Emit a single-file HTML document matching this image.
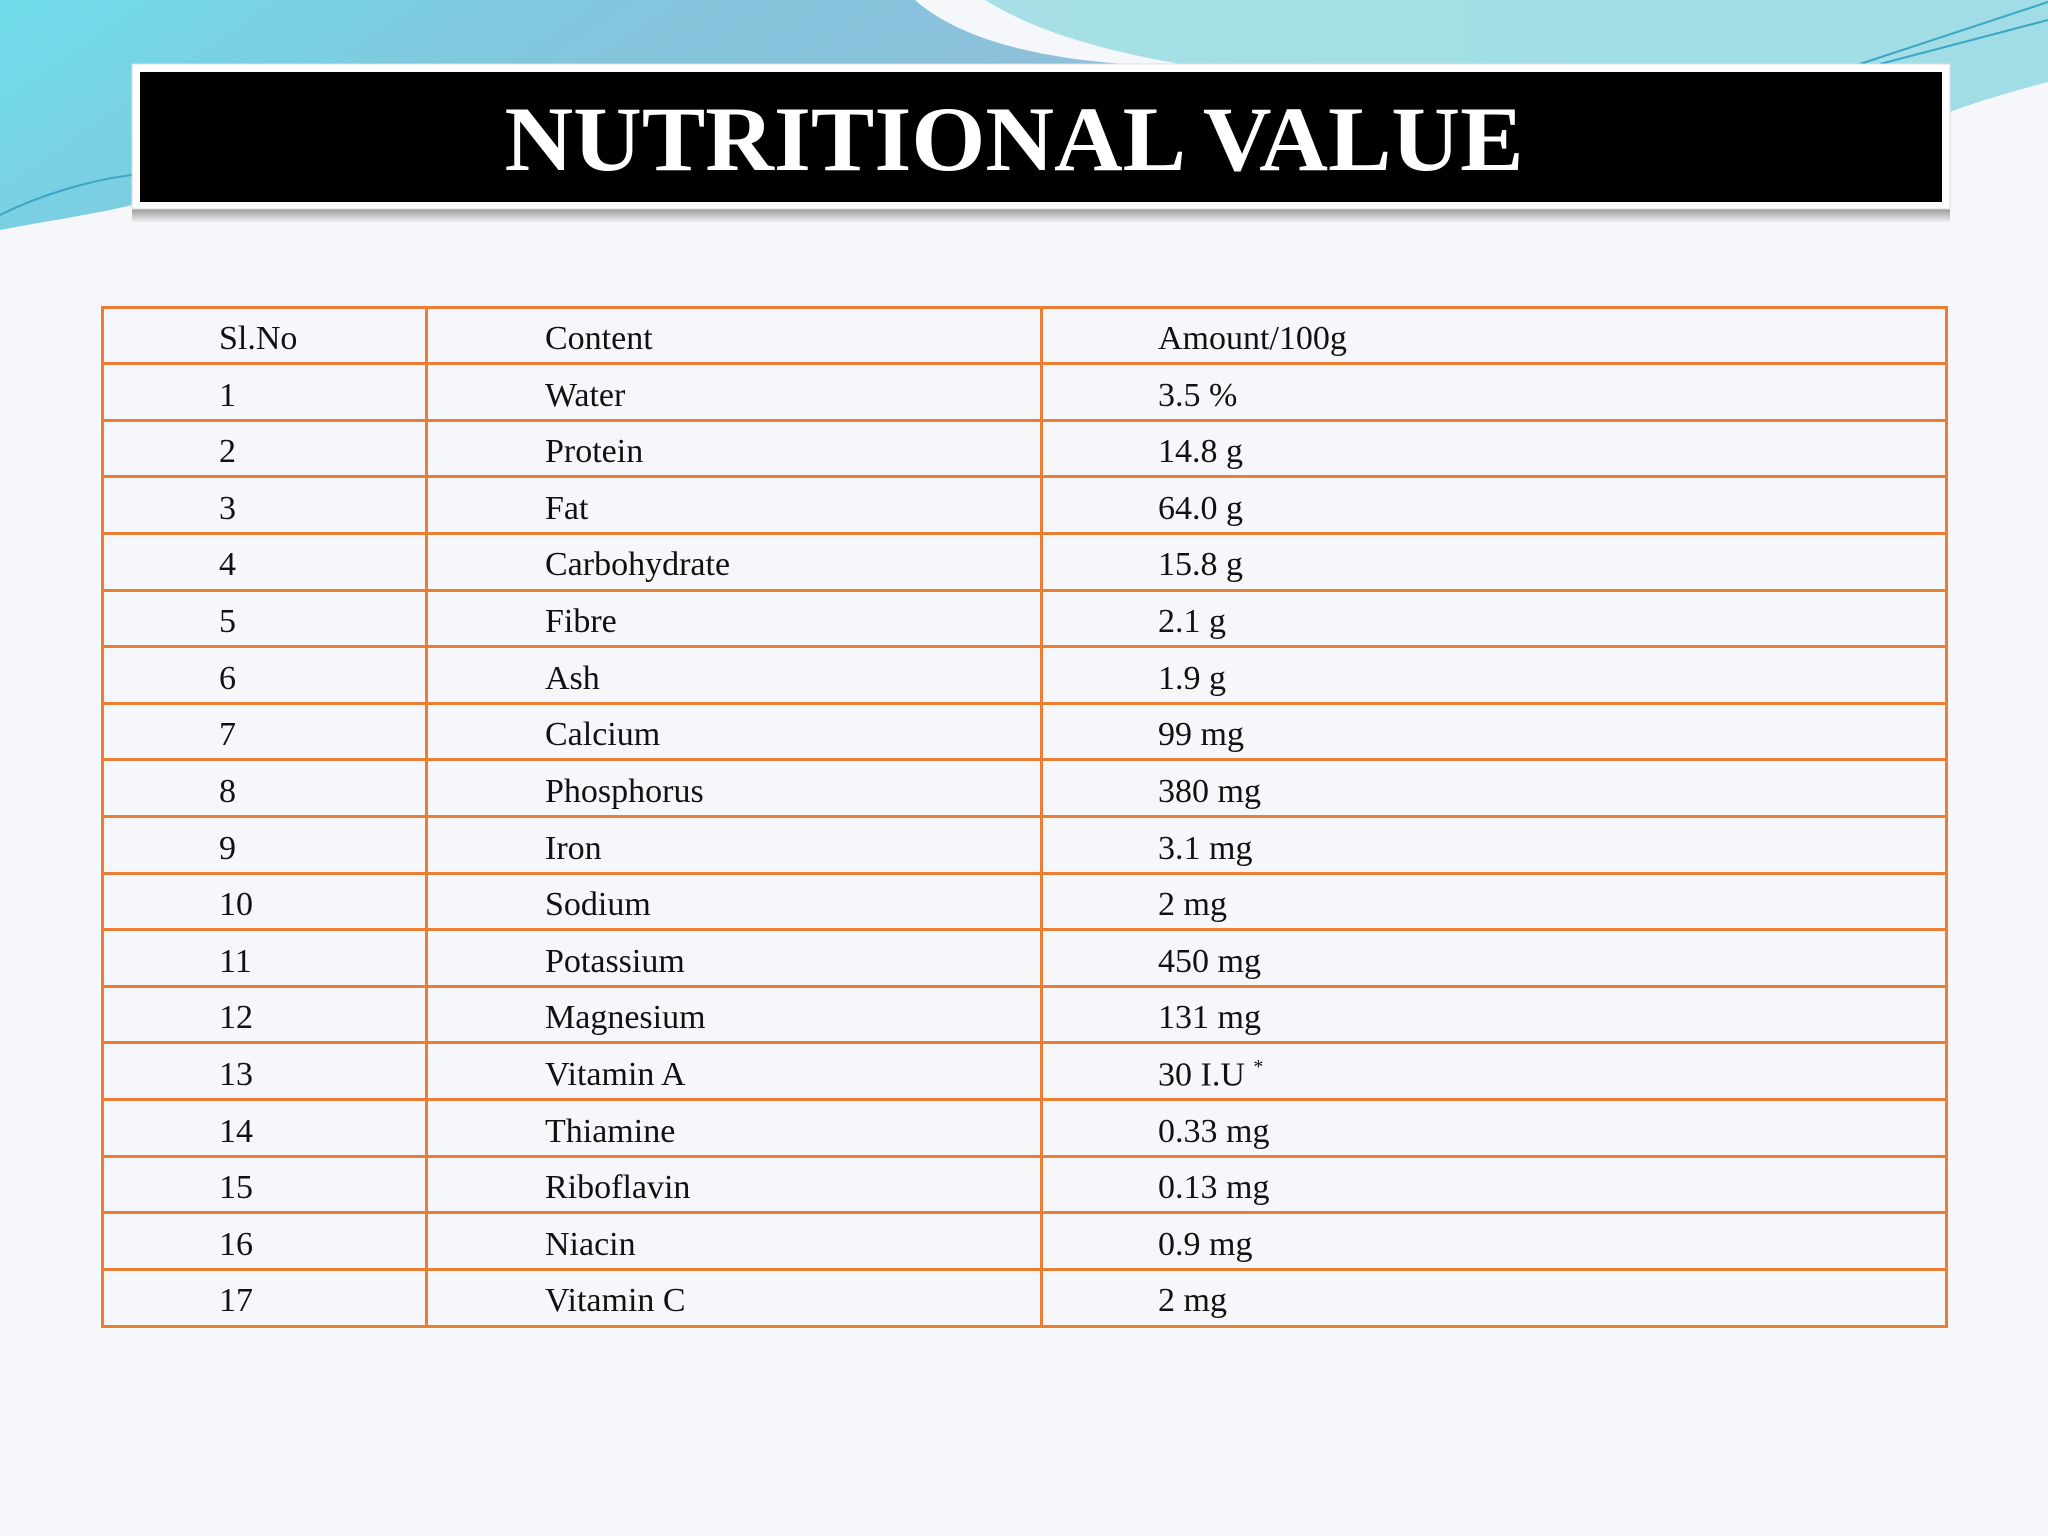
<!DOCTYPE html>
<html><head><meta charset="utf-8">
<style>
html,body{margin:0;padding:0;width:2048px;height:1536px;overflow:hidden;background:#f6f7fa;}
#bg{position:absolute;left:0;top:0;}
.cell{position:absolute;font-family:"Liberation Serif",serif;font-size:34px;color:#111;white-space:nowrap;}
.hl{position:absolute;background:#ec7d33;}
</style></head>
<body>
<svg id="bg" width="2048" height="1536">
<defs>
<linearGradient id="gb" x1="0" y1="0" x2="1" y2="0.3">
<stop offset="0" stop-color="#70dde9"/><stop offset="0.5" stop-color="#82c6dd"/><stop offset="1" stop-color="#8fbfda"/>
</linearGradient>
<linearGradient id="gt" x1="0" y1="0" x2="1" y2="0">
<stop offset="0" stop-color="#a6e0e6"/><stop offset="1" stop-color="#a0dde6"/>
</linearGradient>
<linearGradient id="sh" x1="0" y1="0" x2="0" y2="1">
<stop offset="0" stop-color="#999"/><stop offset="1" stop-color="#f6f7fa"/>
</linearGradient>
</defs>
<path d="M0,0 L915,0 C960,40 1040,58 1125,64 L132,64 L132,205 C90,215 40,222 0,230 Z" fill="url(#gb)"/>
<path d="M985,0 L2048,0 L2048,82 C2010,92 1970,104 1950,112 L1950,64 L1180,64 C1090,48 1030,28 985,0 Z" fill="url(#gt)"/>
<path d="M1860,64 L2048,2 M1880,64 L2048,20 M0,215 C40,195 90,180 132,175" stroke="#3aa6c8" stroke-width="2" fill="none"/>
<rect x="132" y="209" width="1818" height="14" fill="url(#sh)"/>
<rect x="132" y="64" width="1818" height="145" fill="#fdfdfd" stroke="#ddd"/>
<rect x="140" y="72" width="1802" height="130" fill="#000"/>
<text x="1014" y="170" text-anchor="middle" font-family="Liberation Serif, serif" font-weight="bold" font-size="92" fill="#fff" textLength="1019" lengthAdjust="spacingAndGlyphs">NUTRITIONAL VALUE</text>
</svg>
<div id="table"></div>
<script>
const slNo=["Sl.No","1","2","3","4","5","6","7","8","9","10","11","12","13","14","15","16","17"];
const contents=["Content","Water","Protein","Fat","Carbohydrate","Fibre","Ash","Calcium","Phosphorus","Iron","Sodium","Potassium","Magnesium","Vitamin A","Thiamine","Riboflavin","Niacin","Vitamin C"];
const amounts=["Amount/100g","3.5 %","14.8 g","64.0 g","15.8 g","2.1 g","1.9 g","99 mg","380 mg","3.1 mg","2 mg","450 mg","131 mg","30 I.U <sup style='font-size:20px'>*</sup>","0.33 mg","0.13 mg","0.9 mg","2 mg"];
const t=document.getElementById('table');
const L=102,R=1946,T=307,B=1326,rh=(B-T)/18;
const cols=[L,426,1041,R];
const tx=[219,545,1158];
function line(x,y,w,h,name){
 const d=document.createElement('div');d.className='hl';
 d.style.cssText=`left:${x}px;top:${y}px;width:${w}px;height:${h}px`;
 
 
 t.appendChild(d);
}
for(let i=0;i<=18;i++) line(L-1.5,T+i*rh-1.5,R-L+3,3,'row-border');
cols.forEach(c=>line(c-1.5,T-1.5,3,B-T+3,'column-border'));
for(let i=0;i<18;i++){
 [slNo[i],contents[i],amounts[i]].forEach((v,j)=>{
  const d=document.createElement('div');d.className='cell';
  d.innerHTML=v;
  d.style.left=tx[j]+'px';
  d.style.top=(T+i*rh+13)+'px';
  
  
  t.appendChild(d);
 });
}
</script>
</body></html>
